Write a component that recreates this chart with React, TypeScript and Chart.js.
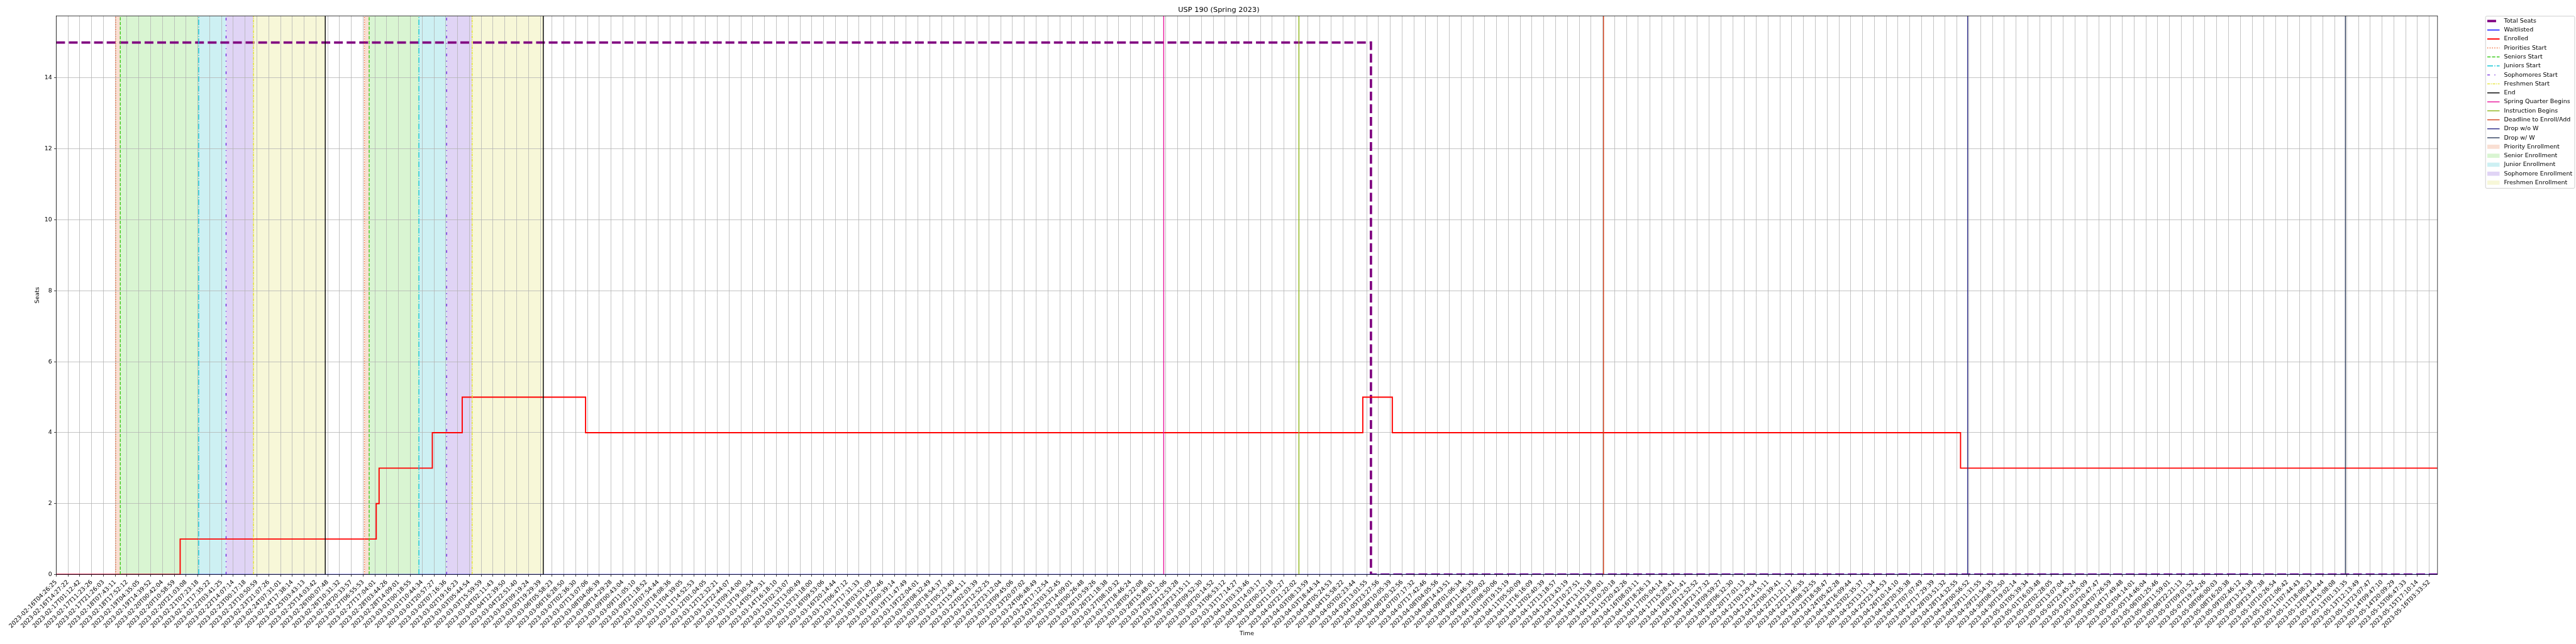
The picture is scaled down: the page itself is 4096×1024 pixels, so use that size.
import React, { useEffect, useRef } from 'react';
import { Chart, registerables } from 'chart.js';
Chart.register(...registerables);

const K = 0.682;            // global scale of the reference
const PT = 1.3889 * K;      // one matplotlib point, in output px
const FONT = "'DejaVu Sans', 'Liberation Sans', sans-serif";

// ---------------- DATA ----------------
const tickLabels: string[] = [
  '2023-02-16T04:26:25', '2023-02-16T14:27:22', '2023-02-17T01:12:42', '2023-02-17T11:23:26', '2023-02-17T21:26:03',
  '2023-02-18T07:43:11', '2023-02-18T17:52:12', '2023-02-19T04:35:05', '2023-02-19T14:39:52', '2023-02-20T00:42:04',
  '2023-02-20T10:58:59', '2023-02-20T21:03:08', '2023-02-21T07:23:18', '2023-02-21T17:35:22', '2023-02-22T03:41:25',
  '2023-02-22T14:07:14', '2023-02-23T00:17:18', '2023-02-23T10:50:59', '2023-02-23T21:07:26', '2023-02-24T07:31:01',
  '2023-02-24T17:38:14', '2023-02-25T03:43:13', '2023-02-25T14:03:42', '2023-02-26T00:07:48', '2023-02-26T10:31:32',
  '2023-02-26T20:33:57', '2023-02-27T06:55:53', '2023-02-27T17:04:01', '2023-02-28T03:44:26', '2023-02-28T14:09:01',
  '2023-03-01T00:18:55', '2023-03-01T10:44:34', '2023-03-01T20:57:27', '2023-03-02T07:16:36', '2023-03-02T19:16:23',
  '2023-03-03T05:44:54', '2023-03-03T15:59:59', '2023-03-04T02:11:43', '2023-03-04T12:39:50', '2023-03-04T22:51:40',
  '2023-03-05T09:19:24', '2023-03-05T19:29:39', '2023-03-06T05:58:23', '2023-03-06T16:28:50', '2023-03-07T02:36:30',
  '2023-03-07T13:07:06', '2023-03-08T04:06:39', '2023-03-08T14:29:28', '2023-03-09T00:43:04', '2023-03-09T11:05:10',
  '2023-03-09T21:18:52', '2023-03-10T07:54:44', '2023-03-10T18:08:36', '2023-03-11T04:39:05', '2023-03-11T14:52:53',
  '2023-03-12T01:04:05', '2023-03-12T12:32:21', '2023-03-12T22:44:07', '2023-03-13T09:14:00', '2023-03-13T19:30:54',
  '2023-03-14T05:59:31', '2023-03-14T16:18:10', '2023-03-15T02:33:07', '2023-03-15T13:00:49', '2023-03-15T23:18:00',
  '2023-03-16T09:53:06', '2023-03-16T20:14:44', '2023-03-17T06:47:12', '2023-03-17T17:31:33', '2023-03-18T03:51:09',
  '2023-03-18T14:22:46', '2023-03-19T00:39:14', '2023-03-19T11:47:49', '2023-03-19T22:04:01', '2023-03-20T08:32:49',
  '2023-03-20T18:54:37', '2023-03-21T05:23:40', '2023-03-21T15:44:11', '2023-03-22T02:03:39', '2023-03-22T12:52:25',
  '2023-03-22T23:12:04', '2023-03-23T09:45:06', '2023-03-23T20:07:02', '2023-03-24T06:48:49', '2023-03-24T17:12:54',
  '2023-03-25T03:32:45', '2023-03-25T14:09:01', '2023-03-26T00:26:48', '2023-03-26T10:59:26', '2023-03-26T21:18:38',
  '2023-03-27T08:10:32', '2023-03-27T18:46:24', '2023-03-28T05:22:08', '2023-03-28T15:48:01', '2023-03-29T02:12:06',
  '2023-03-29T12:53:28', '2023-03-29T23:15:11', '2023-03-30T09:52:30', '2023-03-30T20:14:52', '2023-03-31T06:53:12',
  '2023-03-31T17:14:27', '2023-04-01T03:33:46', '2023-04-01T14:03:17', '2023-04-02T00:22:18', '2023-04-02T11:01:27',
  '2023-04-02T21:22:02', '2023-04-03T08:13:59', '2023-04-03T18:44:34', '2023-04-04T05:24:53', '2023-04-04T15:58:22',
  '2023-04-05T02:23:44', '2023-04-05T13:01:55', '2023-04-05T23:27:56', '2023-04-06T10:05:39', '2023-04-06T20:32:56',
  '2023-04-07T07:17:32', '2023-04-07T17:42:46', '2023-04-08T04:05:56', '2023-04-08T14:43:51', '2023-04-09T01:06:34',
  '2023-04-09T11:46:35', '2023-04-09T22:09:02', '2023-04-10T08:50:06', '2023-04-10T19:15:19', '2023-04-11T05:50:09',
  '2023-04-11T16:16:09', '2023-04-12T02:40:39', '2023-04-12T13:18:57', '2023-04-12T23:43:19', '2023-04-13T10:27:51',
  '2023-04-14T13:15:18', '2023-04-14T23:39:01', '2023-04-15T10:20:18', '2023-04-15T20:42:26', '2023-04-16T08:03:11',
  '2023-04-16T18:26:13', '2023-04-17T05:04:14', '2023-04-17T15:28:41', '2023-04-18T02:01:41', '2023-04-18T12:52:52',
  '2023-04-18T23:17:32', '2023-04-19T09:59:27', '2023-04-20T06:32:30', '2023-04-20T17:01:13', '2023-04-21T03:29:54',
  '2023-04-21T14:15:11', '2023-04-22T00:39:41', '2023-04-22T11:21:17', '2023-04-22T21:46:35', '2023-04-23T08:32:55',
  '2023-04-23T18:58:47', '2023-04-24T05:42:28', '2023-04-24T16:09:44', '2023-04-25T02:35:37', '2023-04-25T13:11:34',
  '2023-04-25T23:34:53', '2023-04-26T10:14:10', '2023-04-26T20:35:38', '2023-04-27T07:07:49', '2023-04-27T17:29:39',
  '2023-04-28T03:51:32', '2023-04-28T14:32:55', '2023-04-29T00:56:52', '2023-04-29T11:31:55', '2023-04-29T21:54:35',
  '2023-04-30T08:32:50', '2023-04-30T19:02:14', '2023-05-01T05:39:34', '2023-05-01T16:03:48', '2023-05-02T02:28:05',
  '2023-05-02T13:07:04', '2023-05-02T23:45:24', '2023-05-03T10:25:09', '2023-05-03T20:47:47', '2023-05-04T07:26:59',
  '2023-05-04T17:49:48', '2023-05-05T04:14:01', '2023-05-05T14:46:04', '2023-05-06T01:25:46', '2023-05-06T11:59:01',
  '2023-05-06T22:21:13', '2023-05-07T09:01:52', '2023-05-07T19:24:26', '2023-05-08T06:00:03', '2023-05-08T16:20:38',
  '2023-05-09T02:46:12', '2023-05-09T13:24:38', '2023-05-09T23:47:38', '2023-05-10T10:26:54', '2023-05-10T21:06:42',
  '2023-05-11T07:44:43', '2023-05-11T18:08:23', '2023-05-12T04:44:44', '2023-05-12T15:08:08', '2023-05-13T01:31:35',
  '2023-05-13T12:13:49', '2023-05-13T23:07:47', '2023-05-14T09:47:10', '2023-05-14T20:09:29', '2023-05-15T06:47:33',
  '2023-05-15T17:10:14', '2023-05-16T03:33:52',
];
// x positions are in "tick index" units (0 = first tick label)
const xMax = 201.7;
const yTicks = [0, 2, 4, 6, 8, 10, 12, 14];
const yMax = 15.75;

const seatsX = [0, 111.36, xMax];
const seatsY = [15, 0, 0];
const waitX = [0, xMax];
const waitY = [0, 0];
const enrolledX = [0, 10.5, 27.11, 27.35, 31.86, 34.39, 44.84, 110.67, 113.17, 161.3, xMax];
const enrolledY = [0, 1, 2, 3, 4, 5, 4, 5, 4, 3, 3];

const startNames = ['Priorities Start', 'Seniors Start', 'Juniors Start', 'Sophomores Start', 'Freshmen Start', 'End'];
const pass1Pos = [5.04, 5.43, 12.07, 14.39, 16.71, 22.79];
const pass2Pos = [26.11, 26.51, 30.72, 33.07, 35.23, 41.26];
const dateNames = ['Spring Quarter Begins', 'Instruction Begins', 'Deadline to Enroll/Add', 'Drop w/o W', 'Drop w/ W'];
const datePos = [93.81, 105.26, 131.06, 161.9, 193.9];
const spanNames = ['Priority Enrollment', 'Senior Enrollment', 'Junior Enrollment', 'Sophomore Enrollment', 'Freshmen Enrollment'];

// ---------------- STYLES ----------------
const d = (arr: number[], lw: number) => arr.map((v) => v * lw * PT);
const startStyles = [
  { color: '#f26b38', dash: d([1, 1.65], 1.5) },
  { color: '#3fcc1e', dash: d([3.7, 1.6], 1.5) },
  { color: '#17c6d6', dash: d([6.4, 1.6, 1, 1.6], 1.5) },
  { color: '#6f22de', dash: d([3, 5, 1, 5, 1, 5], 1.5) },
  { color: '#e2e22a', dash: d([3, 1, 1, 1], 1.5) },
  { color: '#000000', dash: [] as number[] },
];
const dateColors = ['#e8159b', '#8db51a', '#d2401c', '#2b2a86', '#2c3b5a'];
const spanColors = ['#f9dfd3', '#d9f5d2', '#cdf0f3', '#e0d4f5', '#f7f7d8'];
const VLW = 1.5 * PT;

const seatsStyle = { color: '#800080', width: 4 * PT, dash: d([3.7, 1.6], 4) };
const waitStyle = { color: '#0000ff', width: 1.5 * PT, dash: [] as number[] };
const enrStyle = { color: '#ff0000', width: 2 * PT, dash: [] as number[] };

const pts = (xs: number[], ys: number[]) => xs.map((x, i) => ({ x, y: ys[i] }));

const spanPlugin = {
  id: 'spans',
  beforeDraw(chart: any) {
    const { ctx, chartArea, scales } = chart;
    const x = scales.x;
    ctx.save();
    ctx.beginPath();
    ctx.rect(chartArea.left, chartArea.top, chartArea.right - chartArea.left, chartArea.bottom - chartArea.top);
    ctx.clip();
    [pass1Pos, pass2Pos].forEach((pos) => {
      for (let k = 0; k < 5; k++) {
        const a = x.getPixelForValue(pos[k]);
        const b = x.getPixelForValue(pos[k + 1]);
        ctx.fillStyle = spanColors[k];
        ctx.fillRect(a, chartArea.top, b - a, chartArea.bottom - chartArea.top);
      }
    });
    ctx.restore();
  },
};

const framePlugin = {
  id: 'frame',
  afterDatasetsDraw(chart: any) {
    const { ctx, chartArea } = chart;
    ctx.save();
    ctx.strokeStyle = '#000';
    ctx.lineWidth = 0.8 * PT;
    ctx.setLineDash([]);
    ctx.strokeRect(chartArea.left, chartArea.top, chartArea.right - chartArea.left, chartArea.bottom - chartArea.top);
    ctx.restore();
  },
};

type LegendEntry = { label: string; kind: 'line' | 'patch'; color: string; width?: number; dash?: number[] };
const legendEntries: LegendEntry[] = [
  { label: 'Total Seats', kind: 'line', color: seatsStyle.color, width: seatsStyle.width, dash: seatsStyle.dash },
  { label: 'Waitlisted', kind: 'line', color: waitStyle.color, width: waitStyle.width, dash: [] },
  { label: 'Enrolled', kind: 'line', color: enrStyle.color, width: enrStyle.width, dash: [] },
  ...startNames.map((n, i) => ({ label: n, kind: 'line' as const, color: startStyles[i].color, width: VLW, dash: startStyles[i].dash })),
  ...dateNames.map((n, i) => ({ label: n, kind: 'line' as const, color: dateColors[i], width: VLW, dash: [] })),
  ...spanNames.map((n, i) => ({ label: n, kind: 'patch' as const, color: spanColors[i] })),
];

const legendPlugin = {
  id: 'mplLegend',
  afterDraw(chart: any) {
    const ctx: CanvasRenderingContext2D = chart.ctx;
    const fs = 10 * PT;
    ctx.save();
    ctx.font = `${fs}px ${FONT}`;
    const maxW = Math.max(...legendEntries.map((e) => ctx.measureText(e.label).width));
    const boxL = 5795 * K;
    const boxT = 37.7 * K;
    const boxB = 439 * K;
    const textX = 5838 * K;
    const boxR = Math.min(textX + maxW + 0.4 * fs, 4095.5);
    const r = 0.2 * fs;
    ctx.beginPath();
    ctx.moveTo(boxL + r, boxT);
    ctx.arcTo(boxR, boxT, boxR, boxB, r);
    ctx.arcTo(boxR, boxB, boxL, boxB, r);
    ctx.arcTo(boxL, boxB, boxL, boxT, r);
    ctx.arcTo(boxL, boxT, boxR, boxT, r);
    ctx.closePath();
    ctx.fillStyle = 'rgba(255,255,255,0.8)';
    ctx.fill();
    ctx.lineWidth = 1 * PT;
    ctx.strokeStyle = '#cccccc';
    ctx.stroke();
    const hx0 = 5799 * K;
    const hx1 = 5827.7 * K;
    legendEntries.forEach((e, k) => {
      const y = (49 + k * 20.94) * K;
      if (e.kind === 'line') {
        ctx.beginPath();
        ctx.setLineDash(e.dash || []);
        ctx.lineDashOffset = 0;
        ctx.lineCap = 'butt';
        ctx.lineWidth = e.width || 1;
        ctx.strokeStyle = e.color;
        ctx.moveTo(hx0, y);
        ctx.lineTo(hx1, y);
        ctx.stroke();
      } else {
        ctx.setLineDash([]);
        ctx.fillStyle = e.color;
        ctx.fillRect(hx0, y - 0.35 * fs, hx1 - hx0, 0.7 * fs);
      }
      ctx.setLineDash([]);
      ctx.fillStyle = '#000';
      ctx.textBaseline = 'middle';
      ctx.textAlign = 'left';
      ctx.fillText(e.label, textX, y);
    });
    ctx.restore();
  },
};

export default function App() {
  const ref = useRef<HTMLCanvasElement>(null);
  useEffect(() => {
    const canvas = ref.current;
    if (!canvas) return;
    const lineDs = (label: string, data: any[], color: string, width: number, dash: number[], stepped: any, order: number) => ({
      label,
      data,
      borderColor: color,
      backgroundColor: color,
      borderWidth: width,
      borderDash: dash,
      borderCapStyle: 'butt',
      borderJoinStyle: 'miter',
      stepped,
      pointRadius: 0,
      fill: false,
      order,
    });
    const datasets: any[] = [];
    let ord = 0;
    datasets.push(lineDs('Total Seats', pts(seatsX, seatsY), seatsStyle.color, seatsStyle.width, seatsStyle.dash, 'before', ord--));
    datasets.push(lineDs('Waitlisted', pts(waitX, waitY), waitStyle.color, waitStyle.width, [], false, ord--));
    datasets.push(lineDs('Enrolled', pts(enrolledX, enrolledY), enrStyle.color, enrStyle.width, [], 'before', ord--));
    [pass1Pos, pass2Pos].forEach((pos) => {
      pos.forEach((p, i) => {
        datasets.push(lineDs(startNames[i], [{ x: p, y: 0 }, { x: p, y: yMax }], startStyles[i].color, VLW, startStyles[i].dash, false, ord--));
      });
    });
    datePos.forEach((p, i) => {
      datasets.push(lineDs(dateNames[i], [{ x: p, y: 0 }, { x: p, y: yMax }], dateColors[i], VLW, [], false, ord--));
    });

    const tickFont = { family: FONT, size: 10 * PT, weight: 'normal' as const, lineHeight: 1.2 };
    const chart = new Chart(canvas, {
      type: 'line',
      data: { datasets },
      options: {
        animation: false,
        responsive: false,
        devicePixelRatio: 1,
        layout: { padding: { left: 0, right: 4096 - 5683 * K, top: 0, bottom: 0 } },
        plugins: {
          legend: { display: false },
          tooltip: { enabled: false },
          title: {
            display: true,
            text: 'USP 190 (Spring 2023)',
            color: '#000',
            font: { family: FONT, size: 12 * PT, weight: 'normal', lineHeight: 1.2 },
            padding: { top: 8.8, bottom: 37 * K - 8.8 - 12 * PT * 1.2 },
          },
        },
        scales: {
          x: {
            type: 'linear',
            min: 0,
            max: xMax,
            afterBuildTicks: (s: any) => {
              s.ticks = tickLabels.map((_, i) => ({ value: i }));
            },
            afterFit: (s: any) => {
              s.height = 1024 - 1339.5 * K;
            },
            ticks: {
              autoSkip: false,
              minRotation: 45,
              maxRotation: 45,
              color: '#000',
              font: tickFont,
              padding: 3.5 * PT,
              callback: (_v: any, i: number) => tickLabels[i],
            },
            grid: { color: '#b0b0b0', lineWidth: 0.8 * PT, drawTicks: true, tickLength: 3.5 * PT, tickColor: '#000', tickWidth: 0.8 * PT },
            border: { display: false },
            title: { display: true, text: 'Time', color: '#000', font: tickFont, padding: { top: 0, bottom: 10.3 } },
          },
          y: {
            type: 'linear',
            min: 0,
            max: yMax,
            afterBuildTicks: (s: any) => {
              s.ticks = yTicks.map((v) => ({ value: v }));
            },
            afterFit: (s: any) => {
              s.width = 131 * K;
            },
            ticks: { color: '#000', font: tickFont, padding: 3.5 * PT, callback: (v: any) => String(v) },
            grid: { color: '#b0b0b0', lineWidth: 0.8 * PT, drawTicks: true, tickLength: 3.5 * PT, tickColor: '#000', tickWidth: 0.8 * PT },
            border: { display: false },
            title: { display: true, text: 'Seats', color: '#000', font: tickFont, padding: { top: 88 * K - 5.7, bottom: 0 } },
          },
        },
      } as any,
      plugins: [spanPlugin, framePlugin, legendPlugin],
    });
    return () => chart.destroy();
  }, []);
  return (
    <div style={{ position: 'absolute', left: 0, top: 0, width: 4096, height: 1024, background: '#fff' }}>
      <canvas ref={ref} width={4096} height={1024} style={{ display: 'block', width: 4096, height: 1024 }} />
    </div>
  );
}
